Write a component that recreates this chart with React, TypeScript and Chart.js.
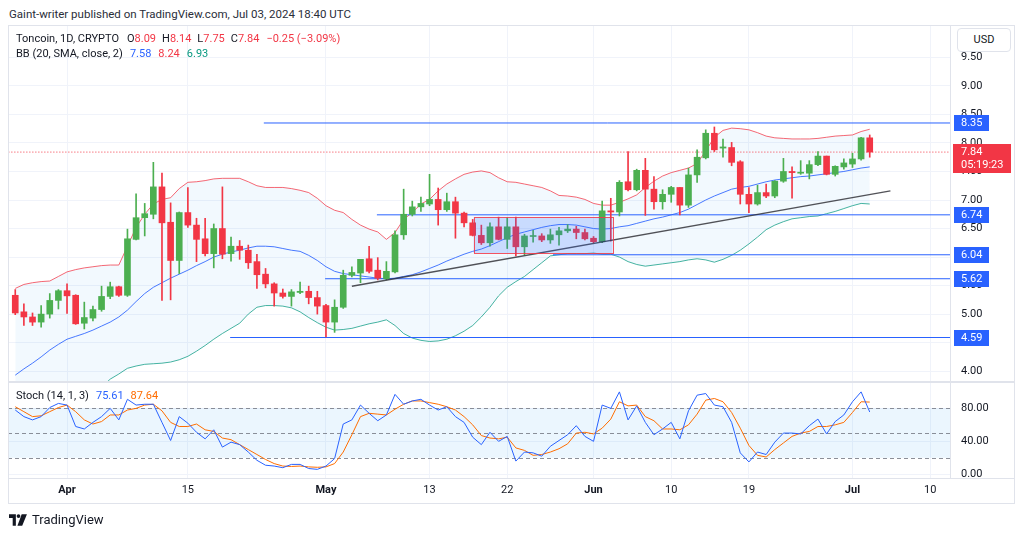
import React, { useEffect, useRef } from "react";
import { Chart, registerables } from "chart.js";

Chart.register(...registerables);

const FONT = "Roboto, 'Liberation Sans', sans-serif";

// First candle = Mar 26, 2024 ; x value = days since Apr 1, 2024
const FIRST_DAY = -6;

const OPEN = [
  5.33, 5.04, 4.95, 4.86, 5.0, 5.24, 5.41, 5.33, 4.84, 4.93,
  5.08, 5.31, 5.48, 5.33, 6.31, 6.69, 6.75, 7.23, 6.61, 5.94,
  6.78, 6.56, 6.32, 6.06, 6.5, 6.06, 6.19, 6.12, 5.92, 5.7,
  5.53, 5.37, 5.31, 5.38, 5.4, 5.29, 5.15, 4.86, 5.12, 5.68,
  5.72, 5.97, 5.77, 5.62, 5.74, 6.39, 6.75, 6.88, 6.93, 7.01,
  6.83, 6.97, 6.77, 6.6, 6.38, 6.25, 6.53, 6.31, 6.53, 6.18,
  6.36, 6.37, 6.3, 6.39, 6.46, 6.49, 6.43, 6.33, 6.27, 6.81,
  6.79, 7.32, 7.18, 7.52, 7.19, 6.97, 7.1, 7.22, 6.91, 7.44,
  7.74, 8.17, 7.91, 7.92, 7.67, 7.1, 6.93, 7.13, 7.07, 7.33,
  7.5, 7.47, 7.47, 7.62, 7.77, 7.45, 7.58, 7.63, 7.72, 8.09,
];
const HIGH = [
  5.43, 5.18, 5.02, 5.15, 5.36, 5.43, 5.53, 5.34, 5.21, 5.14,
  5.49, 5.56, 5.49, 6.49, 7.11, 6.94, 7.66, 7.47, 6.95, 6.79,
  7.22, 6.68, 6.68, 6.58, 7.23, 6.35, 6.29, 6.21, 6.05, 5.8,
  5.55, 5.44, 5.43, 5.56, 5.49, 5.4, 5.17, 5.25, 5.77, 5.83,
  5.96, 6.19, 5.99, 5.92, 6.46, 7.19, 6.98, 7.05, 7.45, 7.21,
  7.12, 7.05, 6.79, 6.66, 6.56, 6.6, 6.7, 6.69, 6.7, 6.4,
  6.47, 6.41, 6.49, 6.52, 6.57, 6.54, 6.49, 6.36, 6.98, 7.03,
  7.34, 7.85, 7.54, 7.73, 7.41, 7.18, 7.24, 7.22, 7.56, 7.88,
  8.23, 8.28, 8.07, 8.01, 7.69, 7.22, 7.26, 7.28, 7.34, 7.73,
  7.58, 7.69, 7.69, 7.85, 7.77, 7.6, 7.72, 7.82, 8.1, 8.14,
];
const LOW = [
  4.99, 4.8, 4.8, 4.77, 4.93, 5.09, 5.01, 4.82, 4.74, 4.88,
  5.05, 5.27, 5.31, 5.31, 6.3, 6.37, 6.67, 5.24, 5.25, 5.71,
  6.52, 5.92, 6.02, 5.81, 5.97, 5.93, 5.96, 5.8, 5.45, 5.46,
  5.14, 5.28, 5.14, 5.36, 5.18, 5.0, 4.6, 4.68, 5.1, 5.65,
  5.55, 5.72, 5.6, 5.6, 5.72, 6.31, 6.72, 6.8, 6.9, 6.56,
  6.8, 6.33, 6.53, 6.37, 6.22, 6.19, 6.3, 6.15, 6.02, 6.04,
  6.26, 6.27, 6.24, 6.21, 6.43, 6.32, 6.3, 6.25, 6.25, 6.28,
  6.72, 7.16, 7.16, 6.73, 6.84, 6.84, 6.96, 6.74, 6.87, 7.31,
  7.72, 7.85, 7.75, 7.6, 6.93, 6.78, 6.91, 7.04, 7.04, 7.31,
  7.03, 7.45, 7.37, 7.6, 7.44, 7.42, 7.54, 7.57, 7.7, 7.75,
];
const CLOSE = [
  5.02, 4.95, 4.86, 5.0, 5.24, 5.41, 5.32, 4.83, 4.94, 5.08,
  5.31, 5.48, 5.33, 6.32, 6.69, 6.76, 7.23, 6.6, 5.94, 6.78,
  6.56, 6.31, 6.06, 6.5, 6.05, 6.19, 6.12, 5.9, 5.69, 5.53,
  5.37, 5.31, 5.39, 5.4, 5.29, 5.14, 4.86, 5.12, 5.68, 5.73,
  5.96, 5.75, 5.63, 5.75, 6.39, 6.75, 6.88, 6.94, 7.01, 6.83,
  6.97, 6.77, 6.6, 6.38, 6.25, 6.53, 6.31, 6.53, 6.18, 6.37,
  6.37, 6.3, 6.39, 6.46, 6.49, 6.43, 6.32, 6.27, 6.81, 6.79,
  7.31, 7.18, 7.52, 7.19, 6.97, 7.1, 7.22, 6.91, 7.44, 7.75,
  8.17, 7.88, 7.93, 7.66, 7.1, 6.93, 7.13, 7.07, 7.33, 7.5,
  7.48, 7.48, 7.62, 7.77, 7.45, 7.59, 7.65, 7.72, 8.09, 7.84,
];

const BB_UPPER = [
  5.45, 5.52, 5.55, 5.57, 5.58, 5.66, 5.74, 5.78, 5.81, 5.83,
  5.85, 5.86, 5.86, 6.19, 6.52, 6.75, 6.93, 7.01, 7.04, 7.2,
  7.31, 7.32, 7.34, 7.37, 7.38, 7.38, 7.38, 7.32, 7.25, 7.22,
  7.22, 7.22, 7.2, 7.17, 7.13, 7.03, 6.9, 6.82, 6.78, 6.66,
  6.56, 6.49, 6.44, 6.31, 6.43, 6.66, 6.78, 6.93, 7.01, 7.16,
  7.28, 7.37, 7.45, 7.49, 7.51, 7.48, 7.39, 7.32, 7.31, 7.28,
  7.25, 7.22, 7.16, 7.08, 7.07, 7.05, 7.01, 6.94, 6.91, 6.91,
  6.96, 7.02, 7.09, 7.22, 7.33, 7.42, 7.48, 7.52, 7.56, 7.64,
  7.86, 8.1, 8.22, 8.26, 8.25, 8.23, 8.18, 8.12, 8.09, 8.08,
  8.07, 8.07, 8.07, 8.08, 8.1, 8.12, 8.13, 8.14, 8.2, 8.24,
];
const BB_BASIS = [
  3.93, 4.04, 4.14, 4.25, 4.37, 4.47, 4.56, 4.61, 4.66, 4.72,
  4.79, 4.86, 4.95, 5.07, 5.22, 5.36, 5.47, 5.55, 5.63, 5.7,
  5.77, 5.85, 5.92, 6.0, 6.05, 6.09, 6.12, 6.16, 6.19, 6.19,
  6.18, 6.15, 6.12, 6.1, 6.03, 5.94, 5.83, 5.75, 5.71, 5.69,
  5.67, 5.65, 5.63, 5.62, 5.63, 5.66, 5.69, 5.74, 5.8, 5.86,
  5.93, 5.99, 6.05, 6.1, 6.14, 6.2, 6.27, 6.34, 6.4, 6.44,
  6.48, 6.52, 6.55, 6.57, 6.57, 6.56, 6.53, 6.5, 6.49, 6.5,
  6.53, 6.55, 6.59, 6.63, 6.67, 6.7, 6.74, 6.78, 6.84, 6.92,
  7.0, 7.07, 7.13, 7.19, 7.22, 7.24, 7.28, 7.32, 7.35, 7.37,
  7.39, 7.41, 7.42, 7.44, 7.46, 7.48, 7.5, 7.53, 7.56, 7.58,
];
const BB_LOWER = [
  2.4, 2.55, 2.72, 2.93, 3.15, 3.27, 3.38, 3.44, 3.5, 3.6,
  3.72, 3.86, 3.95, 4.05, 4.09, 4.12, 4.13, 4.14, 4.16, 4.2,
  4.26, 4.35, 4.45, 4.56, 4.66, 4.75, 4.84, 5.0, 5.12, 5.15,
  5.15, 5.14, 5.11, 5.04, 4.94, 4.85, 4.77, 4.72, 4.73, 4.75,
  4.79, 4.83, 4.86, 4.9, 4.8, 4.66, 4.58, 4.54, 4.52, 4.53,
  4.56, 4.62, 4.7, 4.8, 4.95, 5.12, 5.32, 5.47, 5.57, 5.66,
  5.78, 5.9, 6.02, 6.04, 6.06, 6.06, 6.06, 6.07, 6.05, 6.05,
  6.0, 5.92, 5.87, 5.84, 5.86, 5.88, 5.9, 5.92, 5.95, 5.97,
  5.95, 5.91, 5.96, 6.03, 6.12, 6.23, 6.35, 6.48, 6.56, 6.62,
  6.67, 6.69, 6.71, 6.72, 6.76, 6.8, 6.85, 6.9, 6.94, 6.93,
];

const STOCH_K = [
  78, 70, 66, 70, 81, 86, 84, 58, 55, 63,
  70, 80, 66, 91, 84, 85, 85, 63, 41, 70,
  62, 51, 43, 54, 33, 39, 36, 27, 17, 11,
  10, 8, 12, 12, 7, 6, 10, 19, 61, 66,
  84, 74, 65, 72, 97, 85, 89, 91, 84, 78,
  82, 70, 63, 45, 36, 51, 40, 46, 16, 27,
  26, 22, 34, 41, 48, 59, 46, 40, 84, 80,
  100, 66, 83, 63, 48, 55, 63, 43, 77, 96,
  98, 84, 82, 63, 26, 15, 27, 24, 39, 50,
  50, 49, 59, 67, 49, 64, 72, 88, 100, 75.61,
];
const STOCH_D = [
  82, 76, 70, 71, 76, 81, 84, 76, 66, 61,
  64, 72, 72, 78, 80, 84, 85, 77, 63, 58,
  58, 61, 54, 52, 44, 42, 36, 30, 24, 18,
  13, 10, 9.5, 10, 9, 8.5, 9, 13, 27, 48,
  70, 74, 73, 72, 79, 85, 89, 89, 87, 85,
  82, 78, 70, 60, 47, 44, 43, 45, 32, 29,
  23, 24, 27, 31, 37, 50, 51, 49, 56, 67,
  88, 83, 84, 70, 65, 55, 55, 54, 60, 73,
  90, 92, 88, 75, 56, 35, 23, 21, 30, 38,
  46, 50, 52, 58, 58, 60, 63, 75, 88, 87.64,
];

const X_TICKS = [0, 14, 30, 42, 51, 61, 70, 79, 91, 100];
const X_TICK_LABELS = ["Apr", "15", "May", "13", "22", "Jun", "10", "19", "Jul", "10"];
const MONTH_TICKS = [0, 30, 61, 91];
const PRICE_TICKS = [4, 4.5, 5, 5.5, 6, 6.5, 7, 7.5, 8, 8.5, 9, 9.5];
const STOCH_TICKS = [0, 40, 80];
const STOCH_LEVELS = [80, 50, 20];
const STOCH_BAND = [20, 80];

const H_LEVELS = [8.35, 6.74, 6.04, 5.62, 4.59];
const H_LEVEL_START = [22.8, 35.9, 56.3, 29.9, 18.9];
const TREND_DAYS = [33, 95.4];
const TREND_PRICES = [5.49, 7.16];
const RECT_DAYS = [47.1, 63.2];
const RECT_PRICES = [6.07, 6.7];
const LAST_PRICE = 7.84;
const LAST_TIMER = "05:19:23";

const X_MIN = -6.84;
const X_MAX = 102.3;

const UP = "#4caf50";
const DOWN = "#f23645";
const GRID = "#f0f3fa";
const TEXT = "#131722";
const LINE_BLUE = "#2962ff";

const fitY = (s: any) => {
  s.width = 65;
  s.paddingTop = 0;
  s.paddingBottom = 0;
};

export default function App() {
  const priceRef = useRef<HTMLCanvasElement>(null);
  const stochRef = useRef<HTMLCanvasElement>(null);

  useEffect(() => {
    const days = OPEN.map((_, i) => FIRST_DAY + i);
    const colors = OPEN.map((o, i) => (CLOSE[i] >= o ? UP : DOWN));
    const series = (arr: number[]) => days.map((d, i) => ({ x: d, y: arr[i] }));

    const xTicks = (scale: any) => {
      scale.ticks = X_TICKS.map((v) => ({ value: v }));
    };

    const overlayPlugin = {
      id: "overlay",
      afterDatasetsDraw(chart: any) {
        const { ctx } = chart;
        const xs = chart.scales.x;
        const ys = chart.scales.y;
        const x0 = xs.getPixelForValue(RECT_DAYS[0]);
        const x1 = xs.getPixelForValue(RECT_DAYS[1]);
        const y0 = ys.getPixelForValue(RECT_PRICES[1]);
        const y1 = ys.getPixelForValue(RECT_PRICES[0]);
        ctx.save();
        ctx.fillStyle = "rgba(41,98,255,0.2)";
        ctx.fillRect(x0, y0, x1 - x0, y1 - y0);
        ctx.strokeStyle = "rgba(242,54,69,0.85)";
        ctx.lineWidth = 1;
        ctx.strokeRect(Math.round(x0) + 0.5, Math.round(y0) + 0.5, Math.round(x1 - x0), Math.round(y1 - y0));
        ctx.restore();
      },
      afterDraw(chart: any) {
        const { ctx, chartArea } = chart;
        const ys = chart.scales.y;
        ctx.save();
        ctx.font = `11px ${FONT}`;
        ctx.textBaseline = "middle";
        ctx.textAlign = "left";
        H_LEVELS.forEach((lvl) => {
          const y = Math.round(ys.getPixelForValue(lvl));
          ctx.fillStyle = LINE_BLUE;
          ctx.fillRect(chartArea.right + 4, y - 8, 35, 16);
          ctx.fillStyle = "#ffffff";
          ctx.fillText(lvl.toFixed(2), chartArea.right + 11, y + 0.5);
        });
        const yp = Math.round(ys.getPixelForValue(LAST_PRICE));
        ctx.fillStyle = DOWN;
        ctx.fillRect(chartArea.right + 3, yp - 8, 58, 29);
        ctx.fillStyle = "#ffffff";
        ctx.fillText(LAST_PRICE.toFixed(2), chartArea.right + 11, yp + 0.5);
        ctx.fillText(LAST_TIMER, chartArea.right + 11, yp + 13.5);
        ctx.restore();
      },
    };

    const priceChart = new Chart(priceRef.current as HTMLCanvasElement, {
      type: "bar",
      data: {
        datasets: [
          {
            type: "line",
            data: series(BB_UPPER),
            borderColor: "rgba(242,54,69,0.75)",
            borderWidth: 1,
            pointRadius: 0,
            order: 10,
          },
          {
            type: "line",
            data: series(BB_BASIS),
            borderColor: "rgba(41,98,255,0.85)",
            borderWidth: 1,
            pointRadius: 0,
            order: 10,
          },
          {
            type: "line",
            data: series(BB_LOWER),
            borderColor: "rgba(8,153,129,0.75)",
            borderWidth: 1,
            pointRadius: 0,
            fill: "-2",
            backgroundColor: "rgba(33,150,243,0.06)",
            order: 10,
          },
          ...H_LEVELS.map((lvl, i) => ({
            type: "line" as const,
            data: [
              { x: H_LEVEL_START[i], y: lvl },
              { x: X_MAX + 5, y: lvl },
            ],
            borderColor: LINE_BLUE,
            borderWidth: 1,
            pointRadius: 0,
            order: 9,
          })),
          {
            type: "line",
            data: [
              { x: X_MIN - 1, y: LAST_PRICE },
              { x: X_MAX + 1, y: LAST_PRICE },
            ],
            borderColor: DOWN,
            borderWidth: 1,
            borderDash: [1, 2],
            pointRadius: 0,
            order: 9,
          },
          {
            type: "bar",
            data: days.map((d, i) => ({ x: d, y: [LOW[i], HIGH[i]] })),
            backgroundColor: colors,
            barThickness: 1,
            grouped: false,
            order: 3,
          } as any,
          {
            type: "bar",
            data: days.map((d, i) => ({ x: d, y: [OPEN[i], CLOSE[i]] })),
            backgroundColor: colors,
            barThickness: 6,
            minBarLength: 1,
            grouped: false,
            order: 2,
          } as any,
          {
            type: "line",
            data: [
              { x: TREND_DAYS[0], y: TREND_PRICES[0] },
              { x: TREND_DAYS[1], y: TREND_PRICES[1] },
            ],
            borderColor: "rgba(40,40,46,0.8)",
            borderWidth: 1.5,
            pointRadius: 0,
            order: 1,
          },
        ],
      },
      options: {
        responsive: false,
        animation: false,
        devicePixelRatio: 1,
        layout: { autoPadding: false, padding: { left: 8, right: 9, top: 26, bottom: 0 } },
        plugins: { legend: { display: false }, tooltip: { enabled: false } },
        scales: {
          x: {
            type: "linear",
            min: X_MIN,
            max: X_MAX,
            offset: false,
            afterBuildTicks: xTicks,
            afterFit: (s: any) => {
              s.height = 0;
              s.paddingLeft = 0;
              s.paddingRight = 0;
            },
            ticks: { display: false },
            grid: { color: GRID, drawTicks: false, offset: false },
            border: { display: false },
          },
          y: {
            type: "linear",
            position: "right",
            min: 3.81,
            max: 10.05,
            afterBuildTicks: (s: any) => {
              s.ticks = PRICE_TICKS.map((v) => ({ value: v }));
            },
            afterFit: fitY,
            ticks: {
              padding: 11,
              color: TEXT,
              font: { family: FONT, size: 11 },
              callback: (v: any) => Number(v).toFixed(2),
            },
            grid: { color: GRID, drawTicks: false },
            border: { display: true, color: "#e0e3eb" },
          },
        },
      } as any,
      plugins: [overlayPlugin],
    });

    const bandPlugin = {
      id: "band",
      beforeDatasetsDraw(chart: any) {
        const { ctx, chartArea } = chart;
        const ys = chart.scales.y;
        const yTop = ys.getPixelForValue(STOCH_BAND[1]);
        const yBot = ys.getPixelForValue(STOCH_BAND[0]);
        ctx.save();
        ctx.fillStyle = "rgba(33,150,243,0.09)";
        ctx.fillRect(chartArea.left, yTop, chartArea.right - chartArea.left, yBot - yTop);
        ctx.strokeStyle = "rgba(120,123,134,0.85)";
        ctx.setLineDash([4, 3]);
        ctx.lineWidth = 1;
        STOCH_LEVELS.forEach((lvl) => {
          const y = Math.round(ys.getPixelForValue(lvl)) + 0.5;
          ctx.beginPath();
          ctx.moveTo(chartArea.left, y);
          ctx.lineTo(chartArea.right, y);
          ctx.stroke();
        });
        ctx.restore();
      },
      afterDraw(chart: any) {
        // the pane ends here, so the lowest axis label is cut off as in the reference
        const { ctx, chartArea } = chart;
        ctx.save();
        ctx.fillStyle = "#ffffff";
        ctx.fillRect(chartArea.right + 1, chartArea.bottom + 1, 64, 9);
        ctx.fillStyle = "#e0e3eb";
        ctx.fillRect(chartArea.right, chartArea.bottom, 65, 1);
        ctx.restore();
      },
    };

    const stochChart = new Chart(stochRef.current as HTMLCanvasElement, {
      type: "line",
      data: {
        datasets: [
          {
            data: series(STOCH_K),
            borderColor: "#2962ff",
            borderWidth: 1,
            pointRadius: 0,
            order: 1,
          },
          {
            data: series(STOCH_D),
            borderColor: "#ff6d00",
            borderWidth: 1,
            pointRadius: 0,
            order: 2,
          },
        ],
      },
      options: {
        responsive: false,
        animation: false,
        devicePixelRatio: 1,
        layout: { autoPadding: false, padding: { left: 8, right: 9, top: 0, bottom: 33 } },
        plugins: { legend: { display: false }, tooltip: { enabled: false } },
        scales: {
          x: {
            type: "linear",
            min: X_MIN,
            max: X_MAX,
            offset: false,
            afterBuildTicks: xTicks,
            afterFit: (s: any) => {
              s.height = 25;
              s.paddingLeft = 0;
              s.paddingRight = 0;
            },
            ticks: {
              padding: 6,
              color: TEXT,
              maxRotation: 0,
              autoSkip: false,
              callback: (_v: any, i: number) => X_TICK_LABELS[i],
              font: (c: any) => ({
                family: FONT,
                size: 11,
                weight: c.tick && MONTH_TICKS.includes(c.tick.value) ? "bold" : "normal",
              }),
            },
            grid: { color: GRID, drawTicks: false },
            border: { display: true, color: "#e0e3eb" },
          },
          y: {
            type: "linear",
            position: "right",
            min: -4.5,
            max: 112,
            afterBuildTicks: (s: any) => {
              s.ticks = STOCH_TICKS.map((v) => ({ value: v }));
            },
            afterFit: fitY,
            ticks: {
              padding: 11,
              color: TEXT,
              font: { family: FONT, size: 11 },
              callback: (v: any) => Number(v).toFixed(2),
            },
            grid: { color: GRID, drawTicks: false },
            border: { display: true, color: "#e0e3eb" },
          },
        },
      } as any,
      plugins: [bandPlugin],
    });

    return () => {
      priceChart.destroy();
      stochChart.destroy();
    };
  }, []);

  const legendRow: React.CSSProperties = {
    position: "absolute",
    left: 16,
    fontSize: 11,
    lineHeight: "14px",
    whiteSpace: "nowrap",
    color: TEXT,
  };

  return (
    <div
      style={{
        position: "fixed",
        left: 0,
        top: 0,
        width: 1024,
        height: 536,
        background: "#ffffff",
        fontFamily: FONT,
        color: TEXT,
        overflow: "hidden",
      }}
    >
      <div style={{ position: "absolute", left: 9, top: 7, fontSize: 11.5, color: "#2a2e39", whiteSpace: "nowrap" }}>
        Gaint-writer published on TradingView.com, Jul 03, 2024 18:40 UTC
      </div>
      <canvas
        ref={priceRef}
        width={1024}
        height={382}
        style={{ position: "absolute", left: 0, top: 0, width: 1024, height: 382 }}
      />
      <canvas
        ref={stochRef}
        width={1024}
        height={154}
        style={{ position: "absolute", left: 0, top: 382, width: 1024, height: 154 }}
      />
      <div style={{ ...legendRow, top: 32 }}>
        <span>Toncoin, 1D, CRYPTO</span>
        <span style={{ marginLeft: 8 }}>O</span>
        <span style={{ color: DOWN }}>8.09</span>
        <span style={{ marginLeft: 6 }}>H</span>
        <span style={{ color: DOWN }}>8.14</span>
        <span style={{ marginLeft: 6 }}>L</span>
        <span style={{ color: DOWN }}>7.75</span>
        <span style={{ marginLeft: 6 }}>C</span>
        <span style={{ color: DOWN }}>7.84</span>
        <span style={{ color: DOWN, marginLeft: 7 }}>−0.25 (−3.09%)</span>
      </div>
      <div style={{ ...legendRow, top: 47 }}>
        <span>BB (20, SMA, close, 2)</span>
        <span style={{ color: "#2962ff", marginLeft: 7 }}>7.58</span>
        <span style={{ color: DOWN, marginLeft: 7 }}>8.24</span>
        <span style={{ color: "#089981", marginLeft: 7 }}>6.93</span>
      </div>
      <div style={{ ...legendRow, top: 389 }}>
        <span>Stoch (14, 1, 3)</span>
        <span style={{ color: "#2962ff", marginLeft: 7 }}>75.61</span>
        <span style={{ color: "#ff6d00", marginLeft: 7 }}>87.64</span>
      </div>
      <div
        style={{
          position: "absolute",
          left: 957,
          top: 28,
          width: 54,
          height: 24,
          boxSizing: "border-box",
          border: "1px solid #e0e3eb",
          borderRadius: 4,
          background: "#ffffff",
          fontSize: 11,
          lineHeight: "22px",
          textAlign: "center",
        }}
      >
        USD
      </div>
      <div
        style={{
          position: "absolute",
          left: 8,
          top: 25,
          width: 1007,
          height: 479,
          boxSizing: "border-box",
          border: "1px solid #e0e3eb",
          pointerEvents: "none",
        }}
      />
      <div style={{ position: "absolute", left: 8, top: 381, width: 1007, height: 2, background: "#e0e3eb" }} />
      <div style={{ position: "absolute", left: 9, top: 512, display: "flex", alignItems: "center", gap: 4 }}>
        <svg width="19" height="14" viewBox="0 0 36 26">
          <path d="M0 2h13v22H7V9H0z" fill={TEXT} />
          <circle cx="18" cy="5.5" r="3.5" fill={TEXT} />
          <path d="M24 2h10l-9 22h-9z" fill={TEXT} />
        </svg>
        <span style={{ fontSize: 13, color: TEXT }}>TradingView</span>
      </div>
    </div>
  );
}
